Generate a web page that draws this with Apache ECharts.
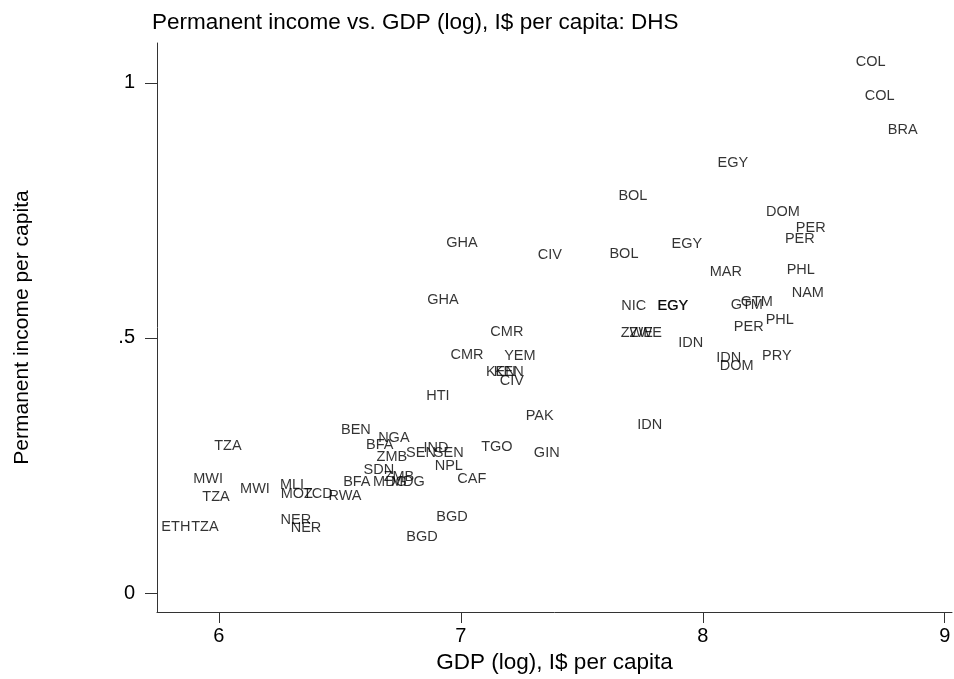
<!DOCTYPE html>
<html>
<head>
<meta charset="utf-8">
<script src="https://cdn.jsdelivr.net/npm/echarts@6/dist/echarts.min.js"></script>
<style>
  html, body { margin: 0; padding: 0; background: #fff; }
  #main { width: 954px; height: 679px; }
</style>
</head>
<body>
<div id="main"></div>
<script>
// country codes, GDP (log) and permanent income
var countries = ['COL', 'COL', 'BRA', 'EGY', 'BOL', 'DOM', 'PER', 'PER', 'GHA', 'EGY',
  'BOL', 'CIV', 'MAR', 'PHL', 'NAM', 'GHA', 'NIC', 'EGY', 'EGY', 'GTM',
  'GTM', 'PHL', 'PER', 'CMR', 'ZWE', 'ZWE', 'IDN', 'YEM', 'CMR', 'IDN',
  'DOM', 'PRY', 'KEN', 'KEN', 'CIV', 'HTI', 'PAK', 'IDN', 'BEN', 'NGA',
  'TZA', 'BFA', 'TGO', 'IND', 'SEN', 'SEN', 'GIN', 'ZMB', 'NPL', 'SDN',
  'MWI', 'CAF', 'BFA', 'MDG', 'ZMB', 'MDG', 'MLI', 'MWI', 'MOZ', 'TCD',
  'RWA', 'TZA', 'BGD', 'NER', 'ETH', 'TZA', 'NER', 'BGD'];
var gdpLog = [8.694, 8.731, 8.826, 8.124, 7.711, 8.331, 8.446, 8.401, 7.004, 7.934,
  7.674, 7.368, 8.095, 8.405, 8.434, 6.926, 7.715, 7.875, 7.877, 8.223,
  8.182, 8.318, 8.190, 7.190, 7.727, 7.764, 7.950, 7.244, 7.025, 8.107,
  8.140, 8.306, 7.165, 7.198, 7.211, 6.905, 7.326, 7.781, 6.566, 6.723,
  6.037, 6.665, 7.149, 6.897, 6.835, 6.950, 7.355, 6.715, 6.950, 6.661,
  5.955, 7.045, 6.570, 6.707, 6.744, 6.781, 6.302, 6.149, 6.322, 6.409,
  6.521, 5.988, 6.963, 6.318, 5.822, 5.942, 6.360, 6.839];
var income = [1.041, 0.975, 0.908, 0.843, 0.778, 0.747, 0.716, 0.694, 0.686, 0.684,
  0.665, 0.663, 0.629, 0.633, 0.588, 0.575, 0.563, 0.563, 0.563, 0.571,
  0.565, 0.535, 0.522, 0.512, 0.510, 0.510, 0.490, 0.465, 0.467, 0.461,
  0.445, 0.465, 0.433, 0.433, 0.416, 0.386, 0.347, 0.329, 0.320, 0.304,
  0.288, 0.290, 0.286, 0.284, 0.275, 0.275, 0.275, 0.267, 0.249, 0.241,
  0.224, 0.224, 0.218, 0.218, 0.227, 0.218, 0.212, 0.204, 0.194, 0.194,
  0.190, 0.188, 0.149, 0.143, 0.129, 0.129, 0.127, 0.110];
var xTicks = [6, 7, 8, 9];
var yTicks = [0, 0.5, 1];

var points = [];
for (var i = 0; i < countries.length; i++) {
  points.push([gdpLog[i], income[i], countries[i]]);
}

var font = 'Arial, "Liberation Sans", Helvetica, sans-serif';
var myChart = echarts.init(document.getElementById('main'));
var option = {
  backgroundColor: '#fff',
  animation: false,
  title: {
    text: 'Permanent income vs. GDP (log), I$ per capita: DHS',
    left: 147,
    top: 6,
    textStyle: { fontFamily: font, fontSize: 22.5, fontWeight: 'normal', color: '#000' }
  },
  grid: { left: 157, right: 2, top: 43, bottom: 67 },
  xAxis: {
    type: 'value',
    min: 5.744,
    max: 9.03,
    name: 'GDP (log), I$ per capita',
    nameLocation: 'middle',
    nameGap: 35,
    nameTextStyle: { fontFamily: font, fontSize: 22.5, color: '#000' },
    axisLine: { show: true, onZero: false, lineStyle: { color: '#333', width: 1 } },
    axisTick: { show: true, length: 11, customValues: xTicks, lineStyle: { color: '#333' } },
    axisLabel: { customValues: xTicks, margin: 14, fontFamily: font, fontSize: 20, color: '#000' },
    splitLine: { show: false }
  },
  yAxis: {
    type: 'value',
    min: -0.037,
    max: 1.078,
    name: 'Permanent income per capita',
    nameLocation: 'middle',
    nameGap: 124,
    nameTextStyle: { fontFamily: font, fontSize: 21, color: '#000' },
    axisLine: { show: true, onZero: false, lineStyle: { color: '#333', width: 1 } },
    axisTick: { show: true, length: 12, customValues: yTicks, lineStyle: { color: '#333' } },
    axisLabel: {
      customValues: yTicks,
      margin: 22,
      fontFamily: font,
      fontSize: 20,
      color: '#000',
      formatter: function (v) {
        if (v === 0) return '0';
        if (v === 1) return '1';
        return String(v).replace(/^0/, '');
      }
    },
    splitLine: { show: false }
  },
  series: [
    {
      type: 'scatter',
      data: points,
      symbolSize: 0.01,
      itemStyle: { color: 'rgba(0,0,0,0)' },
      label: {
        show: true,
        position: 'inside',
        formatter: function (p) { return p.data[2]; },
        fontFamily: font,
        fontSize: 14.5,
        color: '#000'
      },
      emphasis: { disabled: true }
    }
  ]
};
myChart.setOption(option);
</script>
</body>
</html>
